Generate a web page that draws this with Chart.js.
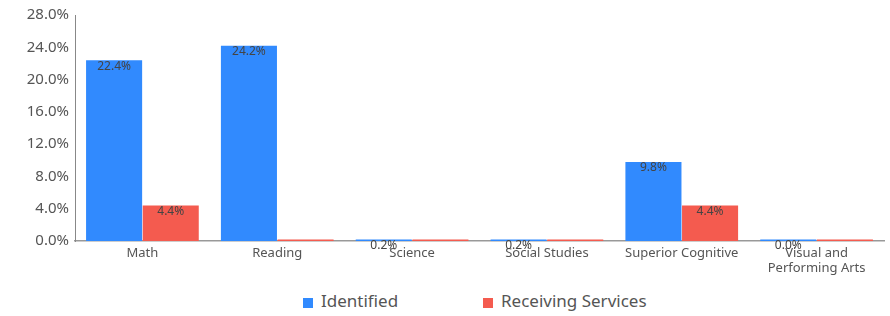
<!DOCTYPE html>
<html>
<head>
<meta charset="utf-8">
<script src="https://cdn.jsdelivr.net/npm/chart.js@4.4.1/dist/chart.umd.min.js"></script>
<style>
  html, body { margin: 0; padding: 0; background: #fff; }
  #wrap { position: relative; width: 890px; height: 316px; }
  #chartBox { position: absolute; left: 0; top: 0; width: 890px; height: 283px; }
  #legend { position: absolute; left: 0; top: 290px; width: 890px; height: 24px; font-family: "Noto Sans", "Open Sans", sans-serif; font-size: 17px; color: #555; }
  .item { position: absolute; top: 0; line-height: 22px; white-space: nowrap; }
  .sw { display: inline-block; width: 10px; height: 10px; margin-right: 8px; vertical-align: -1px; }
</style>
</head>
<body>
<div id="wrap">
  <div id="chartBox"><canvas id="c"></canvas></div>
  <div id="legend"></div>
</div>
<script>
const categories = ["Math", "Reading", "Science", "Social Studies", "Superior Cognitive", ["Visual and", "Performing Arts"]];
const identified = [22.4, 24.2, 0.2, 0.2, 9.8, 0.0];
const receivingServices = [4.4, 0, 0, 0, 4.4, 0];
const yTicks = [0, 4, 8, 12, 16, 20, 24, 28];
const seriesNames = ["Identified", "Receiving Services"];
const colors = ["#318AFE", "#F45B4F"];

const FONT = '"Noto Sans", "Open Sans", sans-serif';

const valueLabels = {
  id: 'valueLabels',
  afterDatasetsDraw(chart) {
    const ctx = chart.ctx;
    ctx.save();
    ctx.font = '12px ' + FONT;
    ctx.fillStyle = '#444';
    ctx.textAlign = 'center';
    ctx.textBaseline = 'top';
    chart.data.datasets.forEach((ds, di) => {
      const meta = chart.getDatasetMeta(di);
      meta.data.forEach((bar, i) => {
        const v = ds.data[i];
        if (di === 1 && !(v > 0)) return;
        ctx.fillText(v.toFixed(1) + '%', bar.x, bar.y);
      });
    });
    ctx.restore();
  }
};

new Chart(document.getElementById('c'), {
  type: 'bar',
  data: {
    labels: categories,
    datasets: [
      { label: seriesNames[0], data: identified, backgroundColor: colors[0], minBarLength: 1.5 },
      { label: seriesNames[1], data: receivingServices, backgroundColor: colors[1], minBarLength: 1.5 }
    ]
  },
  options: {
    responsive: true,
    maintainAspectRatio: false,
    animation: false,
    layout: { padding: { left: 0, right: 6, top: 14, bottom: 0 } },
    datasets: { bar: { categoryPercentage: 0.84, barPercentage: 0.99 } },
    plugins: { legend: { display: false }, tooltip: { enabled: false } },
    scales: {
      x: {
        afterFit(scale) { scale.height = 42; },
        grid: { display: false, drawTicks: false },
        border: { display: true, color: '#999', width: 1.5 },
        ticks: { font: { family: FONT, size: 13 }, color: '#555', padding: 4, maxRotation: 0, autoSkip: false }
      },
      y: {
        min: 0, max: 28,
        afterBuildTicks(scale) { scale.ticks = yTicks.map(v => ({ value: v })); },
        afterFit(scale) { scale.width = 75; },
        grid: { display: false, drawTicks: false },
        border: { display: true, color: '#888', width: 1 },
        ticks: { font: { family: FONT, size: 15 }, color: '#555', padding: 6,
                 callback: v => Number(v).toFixed(1) + '%' }
      }
    }
  },
  plugins: [valueLabels]
});

const legend = document.getElementById('legend');
const positions = [303, 483];
seriesNames.forEach((n, i) => {
  const d = document.createElement('div');
  d.className = 'item';
  d.style.left = positions[i] + 'px';
  d.innerHTML = '<span class="sw" style="background:' + colors[i] + '"></span>' + n;
  legend.appendChild(d);
});
</script>
</body>
</html>
